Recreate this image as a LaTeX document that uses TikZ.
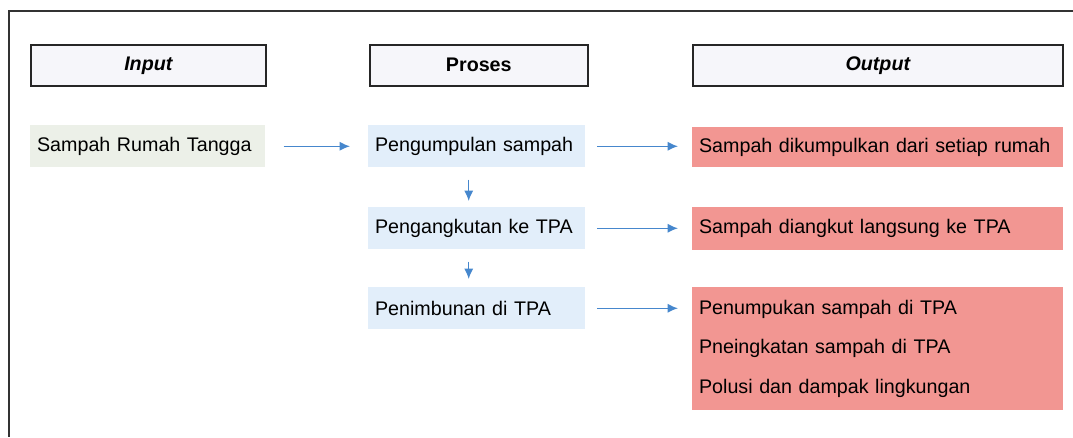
\documentclass[tikz,border=0pt]{standalone}
\usepackage{fontspec}
\setmainfont{Liberation Sans}
\usepackage{tikz}
\usetikzlibrary{arrows.meta}

\definecolor{kepala}{RGB}{246,246,250}
\definecolor{hijau}{RGB}{236,240,232}
\definecolor{biru}{RGB}{226,238,250}
\definecolor{merah}{RGB}{242,150,146}
\definecolor{panah}{RGB}{70,135,205}

\tikzset{
    judul/.style={draw=black!85, line width=1.1pt, fill=kepala, anchor=north west,
        minimum height=1.025cm, font=\fontsize{14}{17}\selectfont\bfseries},
    kotak/.style={anchor=north west, inner xsep=0.17cm, align=left,
        font=\fontsize{14}{17}\selectfont},
    panahbiru/.style={-{Latex[length=2.6mm,width=2.3mm]}, panah, line width=1pt}
}

\begin{document}
\begin{tikzpicture}[x=0.025cm, y=-0.025cm]
    \useasboundingbox (0,0) rectangle (1073,437);
    % Bingkai luar
    \draw[black!80, line width=1.2pt] (1073,11) -- (9,11) -- (9,437);

    % Judul kolom
    \node[judul, minimum width=5.875cm] (hInput) at (30,44) {\itshape Input};
    \node[judul, minimum width=5.45cm] (hProses) at (369,44) {Proses};
    \node[judul, minimum width=9.25cm] (hOutput) at (692,44) {\itshape Output};

    % Input dan proses
    \node[kotak, fill=hijau, text width=5.535cm, minimum height=1.05cm] (input) at (30,125) {Sampah Rumah Tangga};
    \node[kotak, fill=biru, text width=5.08cm, minimum height=1.05cm] (kumpul) at (368,125) {Pengumpulan sampah};
    \node[kotak, fill=biru, text width=5.08cm, minimum height=1.05cm] (angkut) at (368,207) {Pengangkutan ke TPA};
    \node[kotak, fill=biru, text width=5.08cm, minimum height=1.05cm] (timbun) at (368,287) {Penimbunan di TPA};

    % Output
    \node[kotak, fill=merah, text width=8.935cm, minimum height=1.0cm] (outKumpul) at (692,127) {Sampah dikumpulkan dari setiap rumah};
    \node[kotak, fill=merah, text width=8.935cm, minimum height=1.075cm] (outAngkut) at (692,207) {Sampah diangkut langsung ke TPA};
    \node[kotak, fill=merah, text width=8.935cm, minimum height=3.075cm,
        font=\fontsize{14}{28}\selectfont] (outTimbun) at (692,287)
        {Penumpukan sampah di TPA\\Pneingkatan sampah di TPA\\Polusi dan dampak lingkungan};

    % Panah
    \draw[panahbiru, shorten <=0.45cm, shorten >=0.45cm] (input.east) -- (kumpul.west);
    \draw[panahbiru, shorten <=0.3cm, shorten >=0.35cm] (kumpul.east) -- (outKumpul.west |- kumpul.east);
    \draw[panahbiru, shorten <=0.3cm, shorten >=0.35cm] (angkut.east) -- (outAngkut.west |- angkut.east);
    \draw[panahbiru, shorten <=0.3cm, shorten >=0.35cm] (timbun.east) -- (outTimbun.west |- timbun.east);
    \draw[panahbiru, shorten <=0.3cm, shorten >=0.15cm] ([xshift=-0.2cm]kumpul.south) -- ([xshift=-0.2cm]angkut.north);
    \draw[panahbiru, shorten <=0.3cm, shorten >=0.2cm] ([xshift=-0.2cm]angkut.south) -- ([xshift=-0.2cm]timbun.north);
\end{tikzpicture}
\end{document}
